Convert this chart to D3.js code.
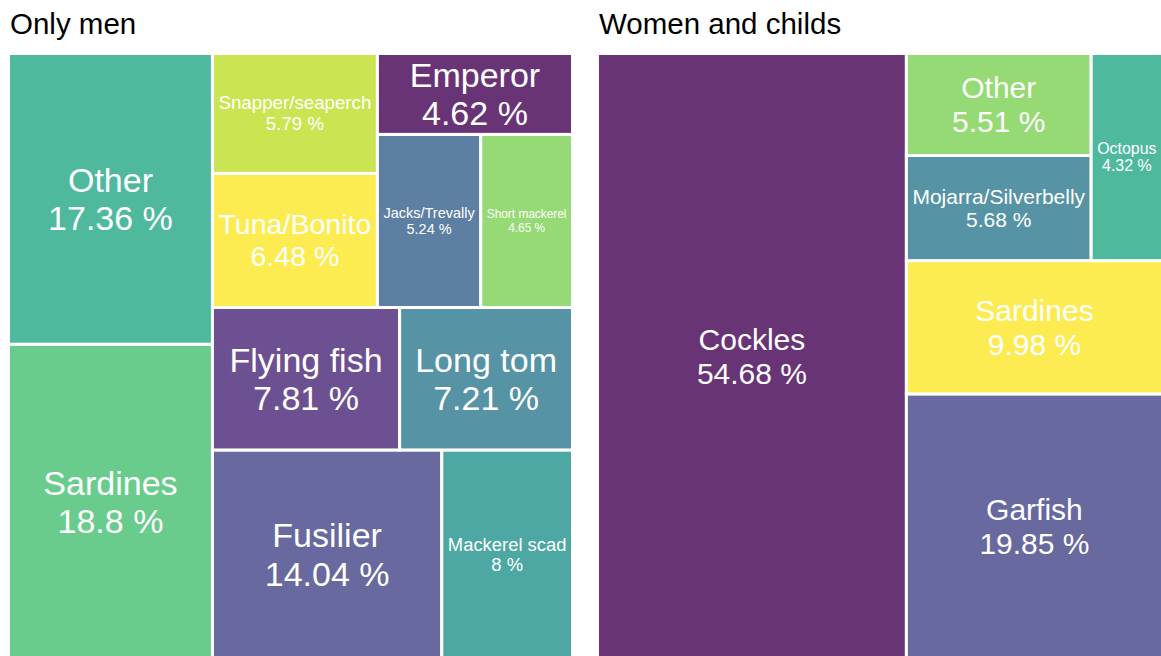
<!DOCTYPE html>
<html>
<head>
<meta charset="utf-8">
<script src="https://cdn.jsdelivr.net/npm/d3@7"></script>
<style>
  body { margin: 0; background: #fff; }
  svg text { font-family: "Liberation Sans", Arial, Helvetica, sans-serif; }
</style>
</head>
<body>
<svg id="chart" width="1161" height="656"></svg>
<script>
// data (percent of catch)
var menNames = ["Sardines", "Other", "Fusilier", "Mackerel scad", "Flying fish", "Long tom",
  "Tuna/Bonito", "Snapper/seaperch", "Jacks/Trevally", "Short mackerel", "Emperor"];
var menValues = [18.8, 17.36, 14.04, 8, 7.81, 7.21, 6.48, 5.79, 5.24, 4.65, 4.62];

var womenNames = ["Cockles", "Garfish", "Sardines", "Mojarra/Silverbelly", "Other", "Octopus"];
var womenValues = [54.68, 19.85, 9.98, 5.68, 5.51, 4.32];

var panelTitles = ["Only men", "Women and childs"];

var svg = d3.select("#chart");

function drawPanel(names, values, title, x0, x1, maxFont) {
  var g = svg.append("g");

  g.append("text")
    .attr("x", x0 + 1.5)
    .attr("y", 34)
    .attr("font-size", 29.5)
    .attr("fill", "#000")
    .text(title);

  // colour by alphabetical order of the categories (viridis, alpha .8)
  var sorted = names.slice().sort(d3.ascending);
  var color = d3.scaleOrdinal()
    .domain(sorted)
    .range(sorted.map(function (d, i) { return d3.interpolateViridis(i / (sorted.length - 1)); }));

  var root = d3.hierarchy({
    children: names.map(function (n, i) { return { name: n, value: values[i] }; })
  })
    .sum(function (d) { return d.value || 0; })
    .sort(function (a, b) { return b.value - a.value; });

  // layout in a unit square, then stretched to the panel (origin bottom-left)
  d3.treemap()
    .tile(d3.treemapSquarify.ratio(1))
    .size([1, 1])
    .padding(0)(root);

  var x = d3.scaleLinear().domain([0, 1]).range([x0, x1]);
  var y = d3.scaleLinear().domain([0, 1]).range([659, 53.5]);

  var cell = g.selectAll("g.cell")
    .data(root.leaves())
    .join("g")
    .attr("class", "cell");

  cell.append("rect")
    .attr("x", function (d) { return x(d.x0); })
    .attr("y", function (d) { return y(d.y1); })
    .attr("width", function (d) { return x(d.x1) - x(d.x0); })
    .attr("height", function (d) { return y(d.y0) - y(d.y1); })
    .attr("fill", function (d) { return color(d.data.name); })
    .attr("fill-opacity", 0.8)
    .attr("stroke", "#fff")
    .attr("stroke-width", 3);

  cell.each(function (d) {
    var w = x(d.x1) - x(d.x0);
    var h = y(d.y0) - y(d.y1);
    var cx = (x(d.x0) + x(d.x1)) / 2;
    var cy = (y(d.y0) + y(d.y1)) / 2;
    var lines = [d.data.name, d.data.value + " %"];

    var t = d3.select(this).append("text")
      .attr("text-anchor", "middle")
      .attr("fill", "#fff")
      .attr("font-size", maxFont);
    var spans = t.selectAll("tspan")
      .data(lines)
      .join("tspan")
      .attr("x", cx)
      .attr("dominant-baseline", "central")
      .text(function (s) { return s; });

    // shrink to fit the box
    var widest = 0;
    spans.each(function () { widest = Math.max(widest, this.getComputedTextLength()); });
    var fs = Math.min(maxFont, maxFont * (w - 12) / widest, h / 2.3);
    t.attr("font-size", fs);
    spans.attr("y", function (s, i) { return cy + (i === 0 ? -0.56 : 0.56) * fs; });
  });
}

drawPanel(menNames, menValues, panelTitles[0], 8.5, 572.5, 34);
drawPanel(womenNames, womenValues, panelTitles[1], 597.5, 1162.5, 30);
</script>
</body>
</html>
